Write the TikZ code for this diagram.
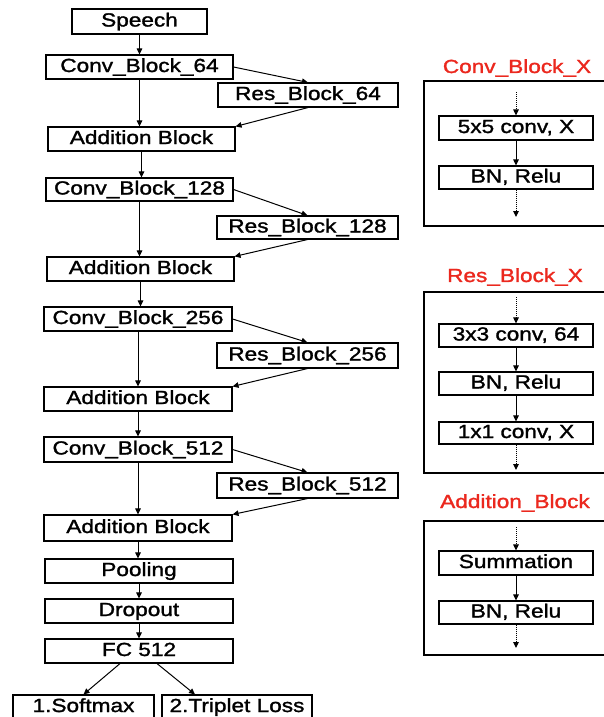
\documentclass[tikz,border=0pt]{standalone}
\usepackage{fontspec}
\newfontfamily\hf[FakeStretch=1.19,FakeBold=1.5]{Liberation Sans}
\usetikzlibrary{arrows.meta}
\definecolor{titlered}{RGB}{235,40,30}
\newcommand\mybox[6]{\node[box, minimum width={(#4-#2)*1pt}, minimum height={(#5-#3)*1pt}] (#1) at ({(#2+#4)/2},{(#3+#5)/2}) {#6};}
\begin{document}
\begin{tikzpicture}[x=1pt,y=-1pt,
  box/.style={draw, line width=1.1pt, inner sep=0pt, text height=13.5pt, text depth=3.5pt, font=\hf\fontsize{19}{21}\selectfont},
  title/.style={text=titlered, font=\hf\fontsize{19}{21}\selectfont, inner sep=0pt},
  frame/.style={draw, line width=1.4pt},
  arr/.style={line width=1pt, -{Triangle[length=6pt,width=5.5pt]}},
  darr/.style={line width=1pt, densely dotted, -{Triangle[length=6pt,width=5.5pt]}}]
\useasboundingbox (0,0) rectangle (604,717);
% main column
\mybox{speech}{72}{9}{207}{34}{Speech}
\mybox{cb64}{46}{55}{233}{79}{Conv\_Block\_64}
\mybox{rb64}{218}{83}{398}{107}{Res\_Block\_64}
\mybox{ad1}{48}{127}{235}{151}{Addition Block}
\mybox{cb128}{46}{178}{233}{201}{Conv\_Block\_128}
\mybox{rb128}{217}{216}{398}{239}{Res\_Block\_128}
\mybox{ad2}{47}{257}{234}{281}{Addition Block}
\mybox{cb256}{44}{307}{232}{331}{Conv\_Block\_256}
\mybox{rb256}{217}{343}{398}{368}{Res\_Block\_256}
\mybox{ad3}{44}{387}{232}{411}{Addition Block}
\mybox{cb512}{44}{437}{232}{462}{Conv\_Block\_512}
\mybox{rb512}{217}{473}{398}{498}{Res\_Block\_512}
\mybox{ad4}{44}{515}{232}{541}{Addition Block}
\mybox{pool}{45}{559}{233}{583}{Pooling}
\mybox{drop}{45}{599}{233}{623}{Dropout}
\mybox{fc}{45}{639}{233}{663}{FC 512}
\mybox{soft}{13}{695}{154}{719}{1.Softmax}
\mybox{trip}{162}{695}{312}{719}{2.Triplet Loss}
% main connectors
\draw[arr] (speech.south) -- (speech.south |- cb64.north);
\foreach \c/\r/\a/\n in {cb64/rb64/ad1/cb128, cb128/rb128/ad2/cb256, cb256/rb256/ad3/cb512, cb512/rb512/ad4/pool}{
  \draw[arr] (\c.south) -- (\c.south |- \a.north);
  \draw[arr] (\c.east) -- (\r.north);
  \draw[arr] (\r.south) -- (\a.north east);
  \draw[arr] (\a.south) -- (\a.south |- \n.north);
}
\draw[arr] (pool.south) -- (pool.south |- drop.north);
\draw[arr] (drop.south) -- (drop.south |- fc.north);
\draw[arr] ([xshift=-19pt]fc.south) -- (soft.north);
\draw[arr] ([xshift=18pt]fc.south) -- ([xshift=-42pt]trip.north);
% Conv_Block_X panel
\node[title] (t1) at (517,68) {Conv\_Block\_X};
\draw[frame] (424,81) rectangle (612,226);
\mybox{c5}{439}{116}{593}{140}{5x5 conv, X}
\mybox{cbn}{439}{166}{593}{189}{BN, Relu}
\coordinate (c5in) at (516,92);
\coordinate (cbout) at (516,217);
\draw[darr] (c5in) -- (c5in |- c5.north);
\draw[arr] (c5.south) -- (cbn.north);
\draw[darr] (cbn.south) -- (cbn.south |- cbout);
% Res_Block_X panel
\node[title] (t2) at (515,277) {Res\_Block\_X};
\draw[frame] (424,292) rectangle (612,473);
\mybox{r3}{439}{324}{593}{347}{3x3 conv, 64}
\mybox{rbn}{439}{372}{593}{395}{BN, Relu}
\mybox{r1}{439}{422}{593}{444}{1x1 conv, X}
\coordinate (r3in) at (516,297);
\coordinate (r1out) at (516,470);
\draw[darr] (r3in) -- (r3in |- r3.north);
\draw[arr] (r3.south) -- (rbn.north);
\draw[arr] (rbn.south) -- (r1.north);
\draw[darr] (r1.south) -- (r1.south |- r1out);
% Addition_Block panel
\node[title] (t3) at (515,503) {Addition\_Block};
\draw[frame] (424,521) rectangle (612,655);
\mybox{sum}{439}{551}{593}{575}{Summation}
\mybox{abn}{439}{601}{593}{624}{BN, Relu}
\coordinate (sumin) at (516,527);
\coordinate (about) at (516,648);
\draw[darr] (sumin) -- (sumin |- sum.north);
\draw[arr] (sum.south) -- (abn.north);
\draw[darr] (abn.south) -- (abn.south |- about);
\end{tikzpicture}
\end{document}
